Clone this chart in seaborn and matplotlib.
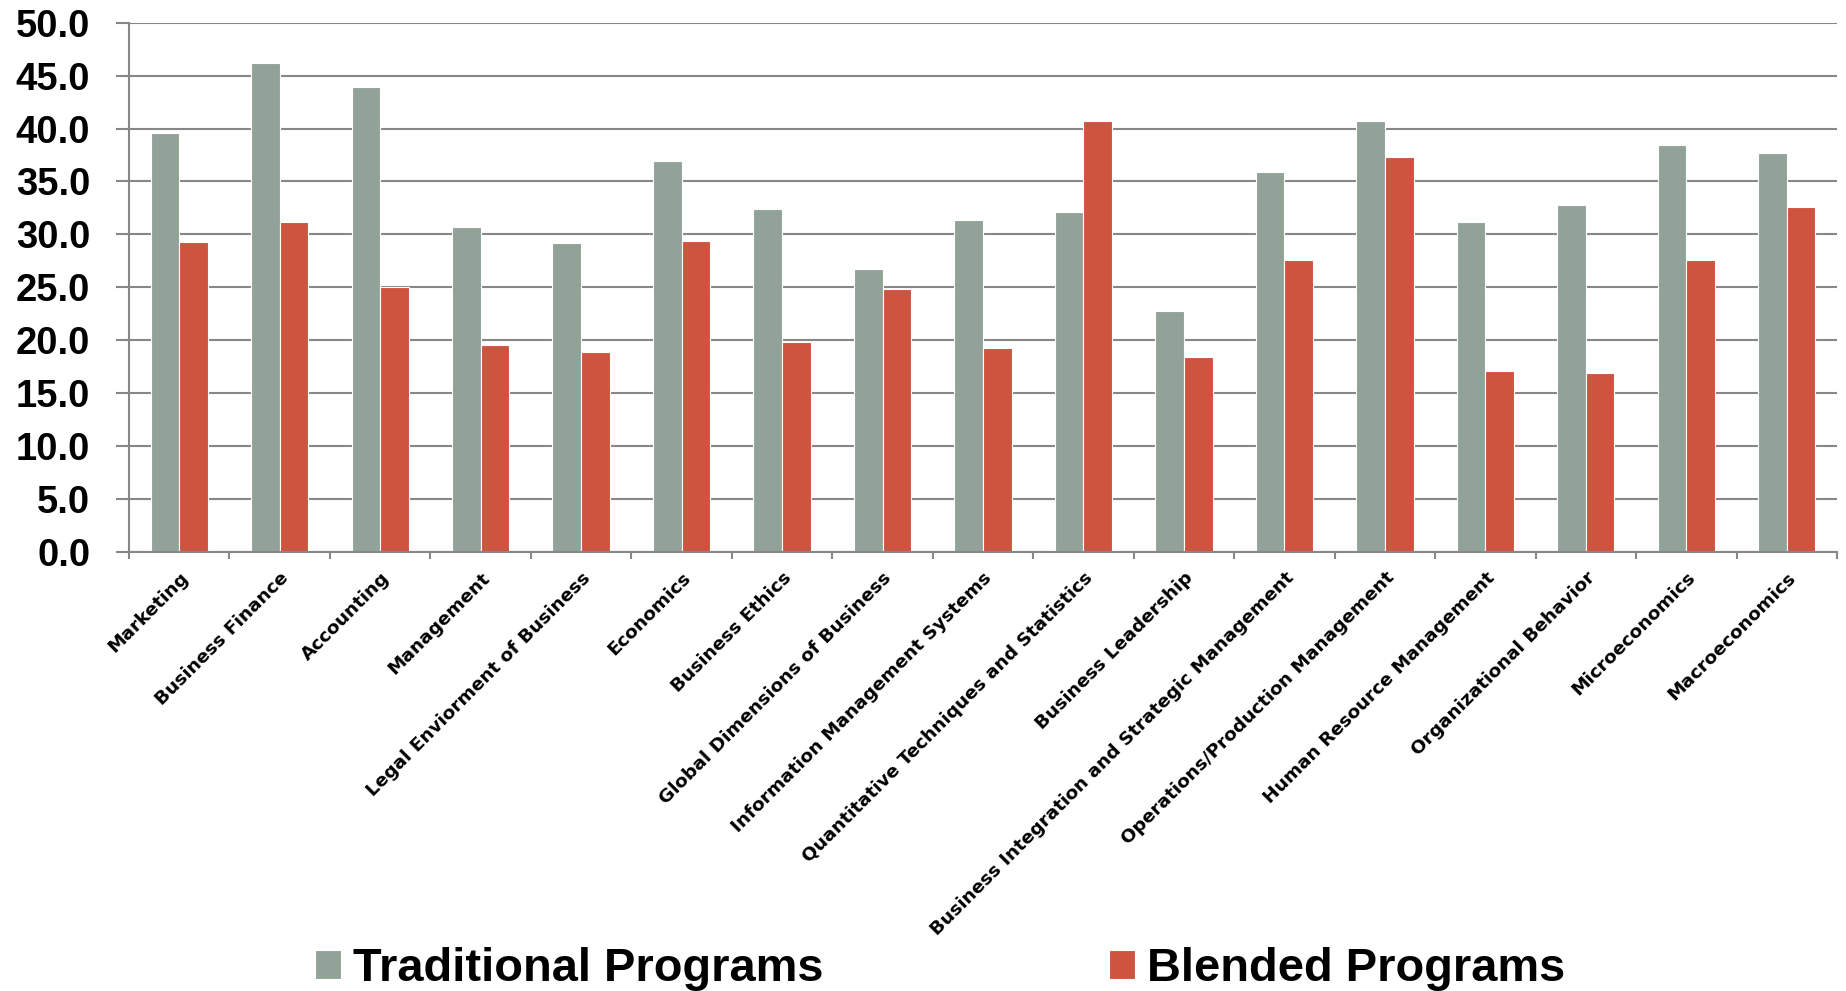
import numpy as np
import pandas as pd
import matplotlib
matplotlib.use("Agg")
import matplotlib.pyplot as plt
import seaborn as sns
from matplotlib.ticker import MultipleLocator, FixedLocator, FormatStrFormatter

# Average scores by course, traditional vs. blended delivery
courses = [
    "Marketing",
    "Business Finance",
    "Accounting",
    "Management",
    "Legal Enviorment of Business",
    "Economics",
    "Business Ethics",
    "Global Dimensions of Business",
    "Information Management Systems",
    "Quantitative Techniques and Statistics",
    "Business Leadership",
    "Business Integration and Strategic Management",
    "Operations/Production Management",
    "Human Resource Management",
    "Organizational Behavior",
    "Microeconomics",
    "Macroeconomics",
]
traditional = [39.6, 46.2, 43.9, 30.7, 29.2, 36.9, 32.4, 26.7, 31.4, 32.1,
               22.8, 35.9, 40.7, 31.2, 32.8, 38.4, 37.7]
blended = [29.3, 31.2, 25.0, 19.6, 18.9, 29.4, 19.8, 24.8, 19.3, 40.7,
           18.4, 27.6, 37.3, 17.1, 16.9, 27.6, 32.6]
programs = ["Traditional Programs", "Blended Programs"]
colors = ["#93A299", "#CF543F"]

df = pd.DataFrame({
    "Course": courses * 2,
    "Score": traditional + blended,
    "Program": [programs[0]] * len(courses) + [programs[1]] * len(courses),
})

sns.set_theme(style="white")
plt.rcParams["font.family"] = ["Liberation Sans", "DejaVu Sans"]
plt.rcParams["text.color"] = "black"

W, H = 1846, 991
fig = plt.figure(figsize=(W / 100, H / 100), dpi=100)
ax = fig.add_axes([129 / W, 1 - 552 / H, (1837 - 129) / W, (552 - 22.7) / H])

grid_col = "#878787"

sns.barplot(data=df, x="Course", y="Score", hue="Program", order=courses,
            hue_order=programs, palette=colors, width=0.57,
            edgecolor="white", linewidth=0.8, saturation=1, ax=ax)

handles = ax.get_legend().legend_handles
ax.get_legend().remove()

ax.set_ylim(0, 50)
ax.set_xlim(-0.5, len(courses) - 0.5)
ax.yaxis.set_major_locator(MultipleLocator(5))
ax.yaxis.set_major_formatter(FormatStrFormatter("%.1f"))
ax.yaxis.grid(True, color=grid_col, linewidth=1.5)
ax.set_axisbelow(True)
ax.set_xlabel("")
ax.set_ylabel("")

for side in ["top", "right"]:
    ax.spines[side].set_visible(False)
for side in ["left", "bottom"]:
    ax.spines[side].set_color(grid_col)
    ax.spines[side].set_linewidth(1.5)

ax.tick_params(axis="y", which="major", length=9.4, width=1.5, color=grid_col,
               pad=18.5, labelsize=27.5, labelcolor="black", left=True)
for t in ax.get_yticklabels():
    t.set_fontweight("bold")

# category separators along the bottom axis
ax.xaxis.set_minor_locator(FixedLocator(np.arange(-0.5, len(courses), 1.0)))
ax.tick_params(axis="x", which="minor", length=5, width=1.5, color=grid_col,
               bottom=True)
ax.tick_params(axis="x", which="major", length=0, pad=12, labelsize=13.3,
               labelcolor="black")
ax.set_xticks(range(len(courses)))
ax.set_xticklabels(courses, rotation=45, ha="right", rotation_mode="anchor",
                   fontweight="bold", family=["DejaVu Sans"], color="black")

fig.legend(handles, programs, loc="lower left",
           bbox_to_anchor=(315 / W, 0.0), ncol=2, frameon=False,
           borderpad=0, borderaxespad=0, handlelength=0.555,
           handleheight=0.555, handletextpad=0.26, columnspacing=6.07,
           labelcolor="black",
           prop={"family": ["Liberation Sans"], "weight": "bold", "size": 33.8})

fig.savefig("out.png", dpi=100)
